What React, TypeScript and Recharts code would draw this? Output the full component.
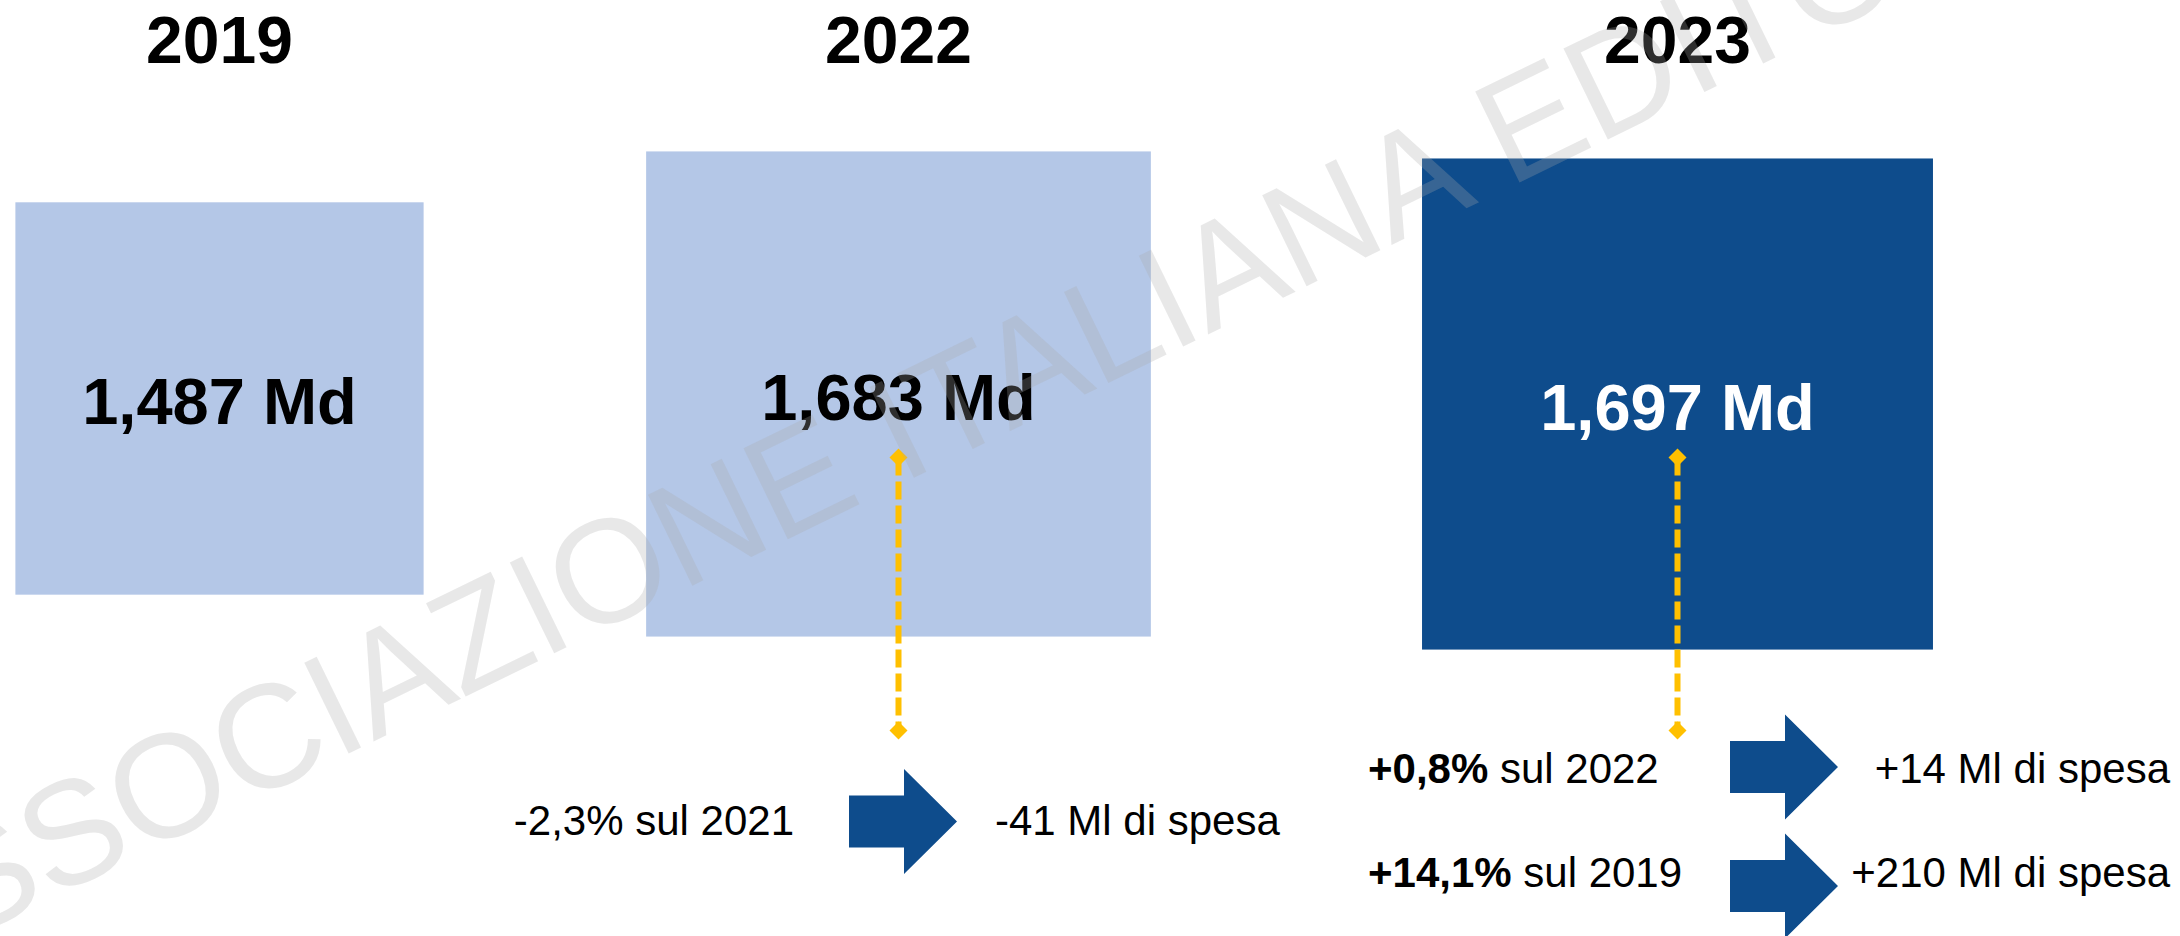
import React from 'react';
import { ComposedChart, XAxis, YAxis, ZAxis, Scatter } from 'recharts';

// ---------------- data ----------------
const years = ['2019', '2022', '2023'];
const spendMd = [1.487, 1.683, 1.697]; // spesa in miliardi
const changeYears = ['2022', '2023', '2023'];
const changePct = [-2.3, 0.8, 14.1];
const changeBase = ['2021', '2022', '2019'];
const changeSpendMl = [-41, 14, 210];

// ---------------- layout / style ----------------
const W = 2180;
const H = 936;
const AXIS_H = 71;
const FONT = "'Liberation Sans', Arial, Helvetica, sans-serif";
const LIGHT = '#B4C7E7';
const DARK = '#0E4C8C';
const GOLD = '#FFC000';

const panels = [
  { left: 0, width: 439 },
  { left: 469, width: 859 },
  { left: 1176, width: 1003 },
];
// vertical levels (0 = top of plot, 100 = bottom)
const SQUARE_LEVELS = [37.86, 37.34, 38.5];
const CONNECTOR_LEVELS = [44.68, 76.24];
const TEXT_LEVELS = [88.32, 82.31, 94.28];
const ARROW_LEVELS = [86.76, 80.46, 94.22];
const ANNOT_STYLE: Record<string, any> = {
  '2022': { leftAnchor: 'end', leftX: -104.5, arrowX: -49.5, rightAnchor: 'start', rightX: 96.5, boldPct: false },
  '2023': { leftAnchor: 'start', leftX: -309.5, arrowX: 52.5, rightAnchor: 'end', rightX: 492.5, boldPct: true },
};
const SIZE_RANGE: [number, number] = [125802, 197075];
const zDomain: [number, number] = [Math.min(...spendMd), Math.max(...spendMd)];

const fmtNum = (v: number, d: number) => v.toFixed(d).replace('.', ',');
const fmtPct = (v: number) => (v > 0 ? '+' : '') + fmtNum(v, 1) + '%';
const fmtMl = (v: number) => (v > 0 ? '+' : '') + v + ' Ml di spesa';

const YearTick = (props: any) => (
  <text x={props.x} y={props.y} textAnchor="middle" fontFamily={FONT} fontSize={66} fontWeight={700} fill="#000">
    {props.payload.value}
  </text>
);

const SquareShape = (props: any) => {
  const { cx, cy, payload } = props;
  const side = typeof props.width === 'number' && !isNaN(props.width) ? props.width : 2 * Math.sqrt(props.size / Math.PI);
  const w = side * 1.02;
  const h = side / 1.02;
  const hl = payload.highlight;
  return (
    <g>
      <rect x={cx - w / 2} y={cy - h / 2} width={w} height={h} fill={hl ? DARK : LIGHT} />
      <text x={cx} y={cy + 26} textAnchor="middle" fontFamily={FONT} fontSize={65} fontWeight={700} fill={hl ? '#fff' : '#000'}>
        {payload.label}
      </text>
    </g>
  );
};

const Diamond = (props: any) => {
  const { cx, cy } = props;
  const r = 9;
  return <polygon points={`${cx},${cy - r} ${cx + r},${cy} ${cx},${cy + r} ${cx - r},${cy}`} fill={GOLD} />;
};

const ArrowShape = (props: any) => {
  const { cx, cy, payload } = props;
  const st = ANNOT_STYLE[payload.year];
  const ax = cx + st.arrowX;
  const pts = [
    [ax, cy - 26], [ax + 55, cy - 26], [ax + 55, cy - 52.5], [ax + 108, cy],
    [ax + 55, cy + 52.5], [ax + 55, cy + 26], [ax, cy + 26],
  ].map((p) => p.join(',')).join(' ');
  return <polygon points={pts} fill={DARK} />;
};

const ChangeText = (props: any) => {
  const { cx, cy, payload } = props;
  const st = ANNOT_STYLE[payload.year];
  return (
    <g fontFamily={FONT} fontSize={42} fill="#000">
      <text x={cx + st.leftX} y={cy} textAnchor={st.leftAnchor} style={{ whiteSpace: 'pre' }}>
        <tspan fontWeight={st.boldPct ? 700 : 400}>{payload.pct}</tspan>
        <tspan>{' sul ' + payload.base}</tspan>
      </text>
      <text x={cx + st.rightX} y={cy} textAnchor={st.rightAnchor}>{payload.spend}</text>
    </g>
  );
};

const Panel = ({ idx }: { idx: number }) => {
  const year = years[idx];
  const p = panels[idx];
  const squareRow = {
    year,
    level: SQUARE_LEVELS[idx],
    value: spendMd[idx],
    label: fmtNum(spendMd[idx], 3) + ' Md',
    highlight: idx === years.length - 1,
  };
  const changeIdx = changeYears.map((y, i) => (y === year ? i : -1)).filter((i) => i >= 0);
  const textRows = changeIdx.map((i) => ({
    year,
    level: TEXT_LEVELS[i],
    pct: fmtPct(changePct[i]),
    base: changeBase[i],
    spend: fmtMl(changeSpendMl[i]),
  }));
  const arrowRows = changeIdx.map((i) => ({ year, level: ARROW_LEVELS[i] }));
  const connectorRows = CONNECTOR_LEVELS.map((l) => ({ year, level: l }));
  return (
    <div style={{ position: 'absolute', left: p.left, top: 0, width: p.width, height: H }}>
      <ComposedChart width={p.width} height={H} data={[squareRow]} margin={{ top: 0, right: 0, bottom: 0, left: 0 }}>
        <XAxis
          dataKey="year"
          type="category"
          orientation="top"
          height={AXIS_H}
          axisLine={false}
          tickLine={false}
          tick={<YearTick />}
          allowDuplicatedCategory={false}
          interval={0}
        />
        <YAxis dataKey="level" type="number" domain={[0, 100]} reversed hide />
        <ZAxis dataKey="value" type="number" domain={zDomain} range={SIZE_RANGE} />
        <ZAxis zAxisId="flat" range={[64, 64]} />
        <Scatter data={[squareRow]} shape={<SquareShape />} isAnimationActive={false} />
        {changeIdx.length > 0 && (
          <Scatter
            zAxisId="flat"
            data={connectorRows}
            line={{ stroke: GOLD, strokeWidth: 6, strokeDasharray: '18 6', fill: 'none' }}
            lineType="joint"
            shape={<Diamond />}
            isAnimationActive={false}
          />
        )}
        {changeIdx.length > 0 && (
          <Scatter zAxisId="flat" data={arrowRows} shape={<ArrowShape />} isAnimationActive={false} />
        )}
        {changeIdx.length > 0 && (
          <Scatter zAxisId="flat" data={textRows} shape={<ChangeText />} isAnimationActive={false} />
        )}
      </ComposedChart>
    </div>
  );
};

export default function App() {
  return (
    <div style={{ position: 'absolute', left: 0, top: 0, width: W, height: H, background: '#fff', overflow: 'hidden' }}>
      {years.map((_, i) => (
        <Panel key={i} idx={i} />
      ))}
      <svg width={W} height={H} style={{ position: 'absolute', left: 0, top: 0, pointerEvents: 'none' }}>
        <text
          x={-126}
          y={985}
          transform="rotate(-26 -126 985)"
          fontFamily={FONT}
          fontSize={147}
          fill="rgba(170,170,170,0.27)"
        >
          ASSOCIAZIONE ITALIANA EDITORI
        </text>
      </svg>
    </div>
  );
}
